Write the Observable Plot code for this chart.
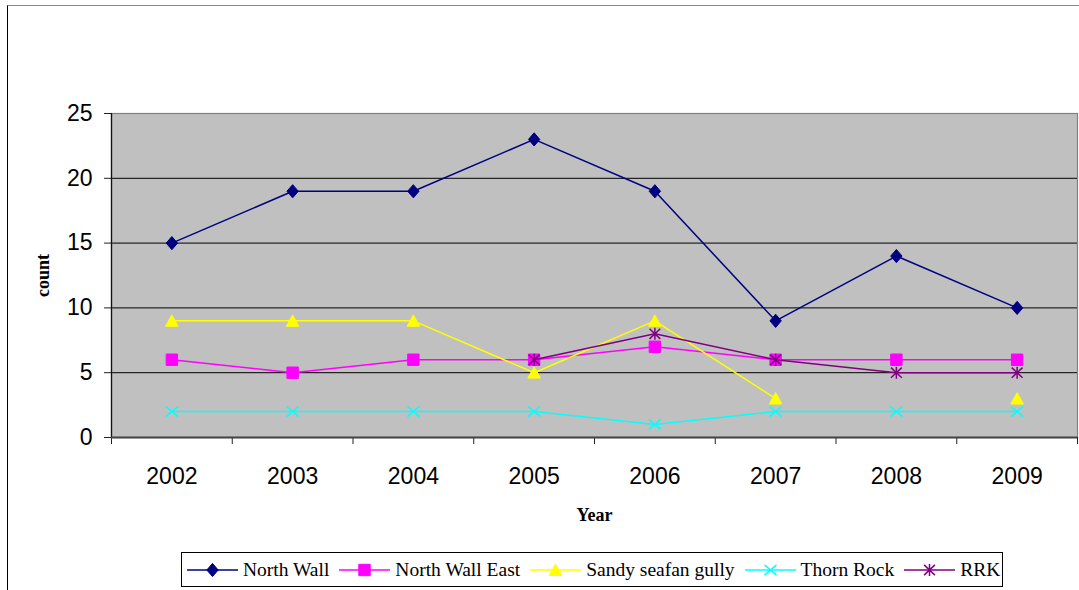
<!DOCTYPE html>
<html>
<head>
<meta charset="utf-8">
<script src="https://cdn.jsdelivr.net/npm/d3@7"></script>
<script src="https://cdn.jsdelivr.net/npm/@observablehq/plot@0.6"></script>
<style>
  html, body { margin: 0; padding: 0; background: #fff; overflow: hidden; }
  #wrap { position: relative; width: 1079px; height: 590px; }
  #border { position: absolute; left: 7px; top: 5px; width: 1200px; height: 700px;
            border-left: 1px solid #000; border-top: 1px solid #888; }
  #chart { position: absolute; left: 0; top: 0; }
  #legend { position: absolute; left: 181px; top: 552px; width: 820px; height: 33px;
            border: 1px solid #000; background: #fff; display: flex; align-items: center;
            font-family: "Liberation Serif", "Times New Roman", serif; font-size: 19.5px; color: #000; }
  .item { display: flex; align-items: center; margin-left: 6px; }
  .item svg { margin-right: 5px; }
</style>
</head>
<body>
<div id="wrap">
  <div id="border"></div>
  <div id="chart"></div>
  <div id="legend"></div>
</div>
<script>
// Survey years and counts per site (null = not surveyed)
const years = [2002, 2003, 2004, 2005, 2006, 2007, 2008, 2009];
const northWall = [15, 19, 19, 23, 19, 9, 14, 10];
const northWallEast = [6, 5, 6, 6, 7, 6, 6, 6];
const sandySeafanGully = [9, 9, 9, 5, 9, 3, null, 3];
const thornRock = [2, 2, 2, 2, 1, 2, 2, 2];
const rrk = [null, null, null, 6, 8, 6, 5, 5];
const yTicks = [0, 5, 10, 15, 20, 25];

// Marker shapes (Excel-like), scaled from the dot radius
const sym = {
  diamond: { draw(c, size) { const r = Math.sqrt(size / Math.PI);
    c.moveTo(0, -1.1 * r); c.lineTo(0.95 * r, 0); c.lineTo(0, 1.1 * r); c.lineTo(-0.95 * r, 0); c.closePath(); } },
  square: { draw(c, size) { const r = Math.sqrt(size / Math.PI) * 0.95;
    c.moveTo(-r, -r); c.lineTo(r, -r); c.lineTo(r, r); c.lineTo(-r, r); c.closePath(); } },
  triangle: { draw(c, size) { const r = Math.sqrt(size / Math.PI);
    c.moveTo(0, -1.0 * r); c.lineTo(1.05 * r, 0.9 * r); c.lineTo(-1.05 * r, 0.9 * r); c.closePath(); } },
  times: { draw(c, size) { const r = Math.sqrt(size / Math.PI);
    c.moveTo(-r, -0.85 * r); c.lineTo(r, 0.85 * r); c.moveTo(r, -0.85 * r); c.lineTo(-r, 0.85 * r); } },
  asterisk: { draw(c, size) { const r = Math.sqrt(size / Math.PI);
    c.moveTo(-0.9 * r, -0.85 * r); c.lineTo(0.9 * r, 0.85 * r); c.moveTo(0.9 * r, -0.85 * r); c.lineTo(-0.9 * r, 0.85 * r);
    c.moveTo(0, -r); c.lineTo(0, r); } }
};

const series = [
  { name: "North Wall", values: northWall, color: "#000080", symbol: sym.diamond, filled: true },
  { name: "North Wall East", values: northWallEast, color: "#FF00FF", symbol: sym.square, filled: true },
  { name: "Sandy seafan gully", values: sandySeafanGully, color: "#FFFF00", symbol: sym.triangle, filled: true },
  { name: "Thorn Rock", values: thornRock, color: "#00FFFF", symbol: sym.times, filled: false },
  { name: "RRK", values: rrk, color: "#800080", symbol: sym.asterisk, filled: false }
];

const rows = s => years.map((year, i) => ({ year, value: s.values[i] }));
const bounds = years.map(y => y - 0.5).concat([years[years.length - 1] + 0.5]);

const seriesMarks = series.flatMap(s => [
  Plot.line(rows(s), { x: "year", y: "value", stroke: s.color, strokeWidth: 1.5 }),
  Plot.dot(rows(s), {
    x: "year", y: "value", r: 6, symbol: s.symbol,
    fill: s.filled ? s.color : "none", stroke: s.color, strokeWidth: s.filled ? 1 : 1.5
  })
]);

const chart = Plot.plot({
  width: 1079,
  height: 590,
  marginLeft: 111,
  marginRight: 2,
  marginTop: 113,
  marginBottom: 153,
  style: { fontFamily: "'Liberation Sans', Arial, sans-serif", fontSize: "23px", background: "transparent", overflow: "visible" },
  x: { type: "linear", domain: [bounds[0], bounds[bounds.length - 1]] },
  y: { domain: [0, 25] },
  marks: [
    Plot.frame({ fill: "#C0C0C0", stroke: "none" }),
    Plot.ruleY(yTicks.filter(v => v > 0 && v < 25), { stroke: "#000", strokeWidth: 1 }),
    Plot.frame({ stroke: "#808080", strokeWidth: 1.2 }),
    Plot.axisY({ ticks: yTicks, tickSize: 7, tickPadding: 12, tickFormat: "d", label: null, fontSize: 23, stroke: "#222" }),
    Plot.axisX({ ticks: bounds, tickSize: 7, tickFormat: () => "", label: null, stroke: "#222" }),
    Plot.axisX({ ticks: years, tickSize: 0, tickPadding: 30, tickFormat: "d", label: null, fontSize: 23 }),
    Plot.ruleX([bounds[0]], { stroke: "#111", strokeWidth: 1.3 }),
    Plot.ruleY([0], { stroke: "#444", strokeWidth: 2 }),
    ...seriesMarks,
    Plot.text(["count"], { frameAnchor: "left", dx: -68, rotate: -90, textAnchor: "middle", text: d => d,
      fontFamily: "'Liberation Serif', 'Times New Roman', serif", fontWeight: "bold", fontSize: 18, fill: "#000" }),
    Plot.text(["Year"], { frameAnchor: "bottom", dy: 83, text: d => d,
      fontFamily: "'Liberation Serif', 'Times New Roman', serif", fontWeight: "bold", fontSize: 18, fill: "#000" })
  ]
});
document.getElementById("chart").append(chart);

// Legend row below the chart
const legend = d3.select("#legend");
series.forEach((s, i) => {
  const item = legend.append("div").attr("class", "item").style("margin-left", i === 0 ? "5px" : "10px");
  const svg = item.append("svg").attr("width", 51).attr("height", 16);
  svg.append("line").attr("x1", 0).attr("x2", 51).attr("y1", 8).attr("y2", 8)
    .attr("stroke", s.color).attr("stroke-width", 1.5);
  const path = d3.path();
  s.symbol.draw(path, 36 * Math.PI);
  svg.append("path").attr("d", path.toString()).attr("transform", "translate(25.5,8)")
    .attr("fill", s.filled ? s.color : "none").attr("stroke", s.color).attr("stroke-width", s.filled ? 1 : 1.5);
  item.append("span").text(s.name);
});
</script>
</body>
</html>
